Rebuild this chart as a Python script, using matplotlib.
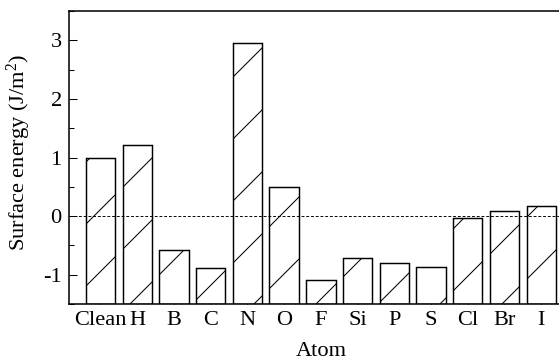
import matplotlib
matplotlib.use("Agg")
import matplotlib.pyplot as plt
from matplotlib.ticker import MultipleLocator
from matplotlib.backend_bases import GraphicsContextBase

# sparser hatch lines, as in the reference
_orig_hatch = GraphicsContextBase.get_hatch_path
def _sparse_hatch(self, density=4.0):
    return _orig_hatch(self, density)
GraphicsContextBase.get_hatch_path = _sparse_hatch

atoms = ["Clean", "H", "B", "C", "N", "O", "F", "Si", "P", "S", "Cl", "Br", "I"]
energy = [1.00, 1.21, -0.58, -0.88, 2.96, 0.49, -1.09, -0.71, -0.80, -0.87, -0.03, 0.08, 0.175]
y_ticks = [-1, 0, 1, 2, 3]

DPI = 124
plt.rcParams['font.family'] = ['Liberation Serif', 'DejaVu Serif']
plt.rcParams['mathtext.fontset'] = 'custom'
plt.rcParams['mathtext.rm'] = 'Liberation Serif'
plt.rcParams['mathtext.it'] = 'Liberation Serif:italic'
plt.rcParams['hatch.linewidth'] = 0.6

fig = plt.figure(figsize=(559 / DPI, 362 / DPI), dpi=DPI)
ax = fig.add_axes([0.1229, 0.1602, 1.025 - 0.1229, 0.9696 - 0.1602])

ymin, ymax = -1.5, 3.5
x = list(range(len(atoms)))
heights = [v - ymin for v in energy]
ax.bar(x, heights, bottom=ymin, width=0.8, facecolor='white', edgecolor='black',
       linewidth=0.85, hatch='/', zorder=2)
ax.axhline(0, color='black', linestyle=(0, (3, 2)), linewidth=0.55, zorder=3)

ax.set_xlim(-0.865, len(atoms) - 1 + 0.865)
ax.set_ylim(ymin, ymax)
ax.set_xticks(x)
ax.set_xticklabels(atoms, fontsize=13)
ax.set_yticks(y_ticks)
ax.set_yticklabels([str(t) for t in y_ticks], fontsize=13)
ax.yaxis.set_minor_locator(MultipleLocator(0.5))

ax.tick_params(axis='both', which='major', direction='in', length=4.6, width=0.6)
ax.tick_params(axis='y', which='minor', direction='in', length=2.9, width=0.6)
ax.tick_params(axis='x', pad=4)
ax.tick_params(axis='y', pad=4)

for s in ax.spines.values():
    s.set_linewidth(0.9)

ax.set_ylabel("Surface energy (J/m$^2$)", fontsize=13)
ax.yaxis.set_label_coords(-0.0708, 0.517)
ax.set_xlabel("Atom", fontsize=13)
ax.xaxis.set_label_coords(0.5, -0.128)

fig.savefig("out.png", dpi=DPI)
